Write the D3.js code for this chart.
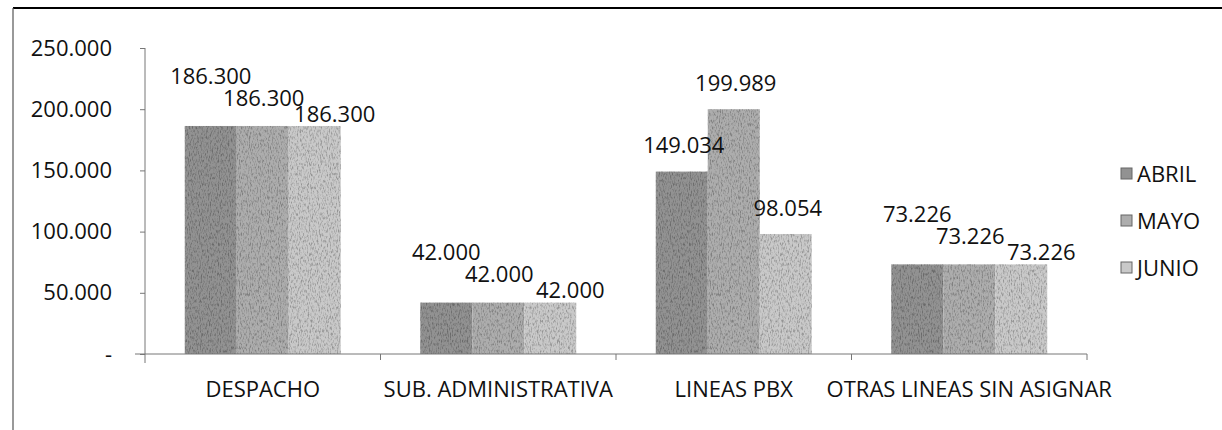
<!DOCTYPE html>
<html>
<head>
<meta charset="utf-8">
<script src="https://cdn.jsdelivr.net/npm/d3@7"></script>
<style>
  html, body { margin: 0; padding: 0; background: #fff; }
  svg { display: block; }
  text { font-family: "Open Sans", Lato, "Liberation Sans", sans-serif; fill: #111; }
</style>
</head>
<body>
<svg id="chart" width="1222" height="430"></svg>
<script>
// ---- data ----
const categories = ["DESPACHO", "SUB. ADMINISTRATIVA", "LINEAS PBX", "OTRAS LINEAS SIN ASIGNAR"];
const series = ["ABRIL", "MAYO", "JUNIO"];
const abril = [186300, 42000, 149034, 73226];
const mayo  = [186300, 42000, 199989, 73226];
const junio = [186300, 42000, 98054, 73226];
const yTicks = [0, 50000, 100000, 150000, 200000, 250000];
const values = [abril, mayo, junio];

// ---- styles ----
const colors = ["#929292", "#adadad", "#c9c9c9"];
const FS = 22;
const FONT = "'Open Sans', Lato, 'Liberation Sans', sans-serif";

const svg = d3.select("#chart");
const W = 1222, H = 430;

// frame
svg.append("line").attr("x1", 13).attr("x2", W).attr("y1", 8).attr("y2", 8)
  .attr("stroke", "#000").attr("stroke-width", 2);
svg.append("line").attr("x1", 13).attr("x2", 13).attr("y1", 8).attr("y2", H)
  .attr("stroke", "#555").attr("stroke-width", 1.2);

// grain filter to imitate the scanned dithering
const defs = svg.append("defs");
const f = defs.append("filter").attr("id", "grain").attr("x", 0).attr("y", 0).attr("width", 1).attr("height", 1);
f.append("feTurbulence").attr("type", "fractalNoise").attr("baseFrequency", "0.9 0.3").attr("numOctaves", 2).attr("seed", 3).attr("result", "noise");
f.append("feColorMatrix").attr("in", "noise").attr("type", "matrix")
  .attr("values", "0 0 0 0 0  0 0 0 0 0  0 0 0 0 0  0 0 0 3 -1.35").attr("result", "dots");
f.append("feComposite").attr("in", "dots").attr("in2", "SourceGraphic").attr("operator", "in").attr("result", "dotsClip");
f.append("feComponentTransfer").attr("in", "dotsClip").attr("result", "dotsSoft")
  .append("feFuncA").attr("type", "linear").attr("slope", 0.5);
const fm = f.append("feMerge");
fm.append("feMergeNode").attr("in", "SourceGraphic");
fm.append("feMergeNode").attr("in", "dotsSoft");

// scales
const x0 = d3.scaleBand().domain(categories).range([145, 1087]).paddingInner(0).paddingOuter(0);
const x1 = d3.scaleBand().domain(series).range([0, x0.bandwidth()]).paddingInner(0).paddingOuter(0.765);
const y = d3.scaleLinear().domain([0, 250000]).range([354, 48]);

const loc = d3.formatLocale({ decimal: ",", thousands: ".", grouping: [3], currency: ["", ""] });
const fmt = v => v === 0 ? "-" : loc.format(",.0f")(v);

// y axis
const yAxis = svg.append("g").attr("transform", "translate(145,0)")
  .call(d3.axisLeft(y).tickValues(yTicks).tickFormat(fmt).tickSize(5).tickPadding(28));
yAxis.select(".domain").attr("stroke", "#777").attr("d", "M0,48V363");
yAxis.selectAll(".tick line").attr("stroke", "#777");
yAxis.selectAll(".tick text").attr("font-size", FS).attr("fill", "#111")
  .style("font-family", FONT);

// bars
const groups = svg.append("g").selectAll("g").data(categories).join("g")
  .attr("transform", d => `translate(${x0(d)},0)`);
series.forEach((s, si) => {
  groups.append("rect")
    .attr("x", x1(s))
    .attr("width", x1.bandwidth())
    .attr("y", (d, ci) => y(values[si][ci]))
    .attr("height", (d, ci) => y(0) - y(values[si][ci]))
    .attr("fill", colors[si])
    .attr("filter", "url(#grain)");
});

// x axis
svg.append("line").attr("x1", 135).attr("x2", 1087).attr("y1", y(0)).attr("y2", y(0))
  .attr("stroke", "#777");
const xt = [...categories.map(c => x0(c)), x0(categories[categories.length - 1]) + x0.bandwidth()];
svg.append("g").selectAll("line").data(xt.slice(1)).join("line")
  .attr("x1", d => d).attr("x2", d => d).attr("y1", y(0)).attr("y2", y(0) + 6)
  .attr("stroke", "#777");
svg.append("g").selectAll("text").data(categories).join("text")
  .attr("x", d => x0(d) + x0.bandwidth() / 2)
  .attr("y", 389)
  .attr("dy", "0.35em")
  .attr("text-anchor", "middle")
  .attr("font-size", FS)
  .text(d => d);

// data labels (outside end; equal values get staggered to avoid overlap)
const stagger = [{ dx: 0, dy: -24 }, { dx: 1, dy: -2 }, { dx: 20, dy: 14 }];
categories.forEach((c, ci) => {
  const vals = values.map(v => v[ci]);
  const equal = vals.every(v => v === vals[0]);
  series.forEach((s, si) => {
    const cx = x0(c) + x1(s) + x1.bandwidth() / 2;
    const top = y(vals[si]);
    const off = equal ? stagger[si] : { dx: 2, dy: 0 };
    svg.append("text")
      .attr("x", cx + off.dx)
      .attr("y", top - 26 + off.dy)
      .attr("dy", "0.35em")
      .attr("text-anchor", "middle")
      .attr("font-size", FS)
      .text(fmt(vals[si]));
  });
});

// legend
const leg = svg.append("g").selectAll("g").data(series).join("g")
  .attr("transform", (d, i) => `translate(1121,${174 + i * 47})`);
leg.append("rect").attr("x", 0).attr("y", -6).attr("width", 11).attr("height", 11)
  .attr("fill", (d, i) => colors[i]).attr("stroke", "#666").attr("stroke-width", 1);
leg.append("text").attr("x", 16).attr("dy", "0.35em").attr("font-size", FS).text(d => d);
</script>
</body>
</html>
